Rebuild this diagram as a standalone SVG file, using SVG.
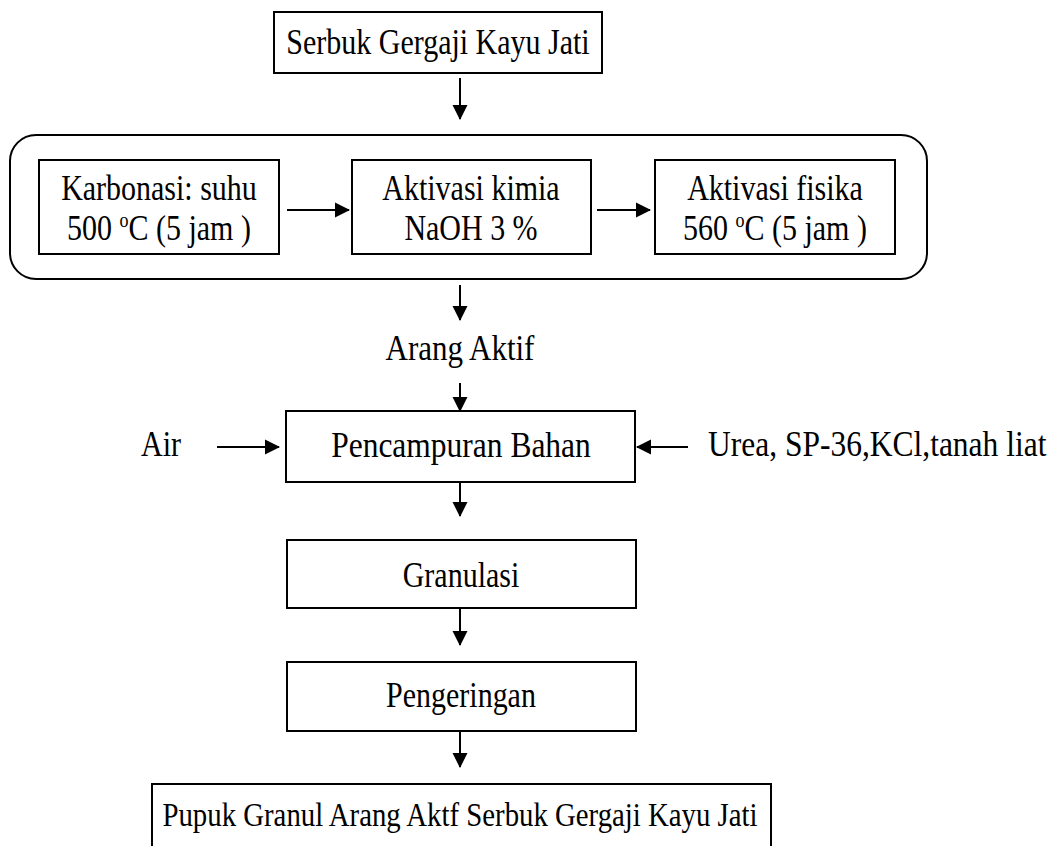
<svg xmlns="http://www.w3.org/2000/svg" width="1060" height="846" viewBox="0 0 1060 846">
<style>
.b{fill:#fff;stroke:#000;stroke-width:2}
text{font-family:"Liberation Serif","Times New Roman",serif;font-size:30px;fill:#000}
.c{text-anchor:middle}
.sup{font-size:18px}
line{stroke:#000;stroke-width:2}
</style>
<defs>
<marker id="ah" markerUnits="userSpaceOnUse" markerWidth="16" markerHeight="16" refX="14" refY="8" orient="auto">
<path d="M0,0.5 L15,8 L0,15.5 Z" fill="#000"/>
</marker>
</defs>
<rect width="1060" height="846" fill="#fff"/>
<g id="n-serbuk">
<rect class="b" x="274" y="12" width="328" height="61"/>
<text transform="translate(0,54) scale(1,1.17)" x="438" y="0" class="c">Serbuk Gergaji Kayu Jati</text>
</g>
<g id="n-group">
<rect class="b" x="10" y="135" width="917" height="144" rx="26" ry="26"/>
</g>
<g id="n-karbonasi">
<rect class="b" x="39" y="160" width="240" height="94"/>
<text transform="translate(0,200) scale(1,1.17)" x="159" y="0" class="c">Karbonasi: suhu</text>
<text transform="translate(0,240) scale(1,1.17)" x="159" y="0" class="c">500 <tspan class="sup" dy="-11">o</tspan><tspan dy="11">C (5 jam )</tspan></text>
</g>
<g id="n-kimia">
<rect class="b" x="352" y="160" width="239" height="94"/>
<text transform="translate(0,200) scale(1,1.17)" x="471" y="0" class="c">Aktivasi kimia</text>
<text transform="translate(0,240) scale(1,1.17)" x="471" y="0" class="c">NaOH 3 %</text>
</g>
<g id="n-fisika">
<rect class="b" x="655" y="160" width="240" height="94"/>
<text transform="translate(0,200) scale(1,1.17)" x="775" y="0" class="c">Aktivasi fisika</text>
<text transform="translate(0,240) scale(1,1.17)" x="775" y="0" class="c">560 <tspan class="sup" dy="-11">o</tspan><tspan dy="11">C (5 jam )</tspan></text>
</g>
<g id="n-arang">
<text transform="translate(0,360) scale(1,1.17)" x="460" y="0" class="c" style="font-size:31px">Arang Aktif</text>
</g>
<g id="n-air">
<text transform="translate(0,456) scale(1,1.17)" x="141" y="0">Air</text>
</g>
<g id="n-urea">
<text transform="translate(0,456) scale(1,1.17)" x="708" y="0" style="font-size:31.5px">Urea, SP-36,KCl,tanah liat</text>
</g>
<g id="n-pencampuran">
<rect class="b" x="286" y="411" width="349" height="71"/>
<text transform="translate(0,457) scale(1,1.17)" x="461" y="0" class="c" style="font-size:31.5px">Pencampuran Bahan</text>
</g>
<g id="n-granulasi">
<rect class="b" x="287" y="540" width="349" height="68"/>
<text transform="translate(0,587) scale(1,1.17)" x="461" y="0" class="c">Granulasi</text>
</g>
<g id="n-pengeringan">
<rect class="b" x="287" y="662" width="349" height="69"/>
<text transform="translate(0,707) scale(1,1.17)" x="461" y="0" class="c">Pengeringan</text>
</g>
<g id="n-pupuk">
<rect class="b" x="152" y="784" width="619" height="70"/>
<text transform="translate(0,826) scale(1,1.17)" x="460" y="0" class="c" style="font-size:28.8px">Pupuk Granul Arang Aktf Serbuk Gergaji Kayu Jati</text>
</g>
<g id="connectors">
<line x1="460" y1="78" x2="460" y2="119" marker-end="url(#ah)"/>
<line x1="287" y1="210" x2="349" y2="210" marker-end="url(#ah)"/>
<line x1="597" y1="210" x2="650" y2="210" marker-end="url(#ah)"/>
<line x1="460" y1="285" x2="460" y2="320" marker-end="url(#ah)"/>
<line x1="460" y1="383" x2="460" y2="411" marker-end="url(#ah)"/>
<line x1="217" y1="447" x2="279" y2="447" marker-end="url(#ah)"/>
<line x1="688" y1="447" x2="637" y2="447" marker-end="url(#ah)"/>
<line x1="460" y1="482" x2="460" y2="516" marker-end="url(#ah)"/>
<line x1="460" y1="608" x2="460" y2="645" marker-end="url(#ah)"/>
<line x1="460" y1="731" x2="460" y2="767" marker-end="url(#ah)"/>
</g>
</svg>
